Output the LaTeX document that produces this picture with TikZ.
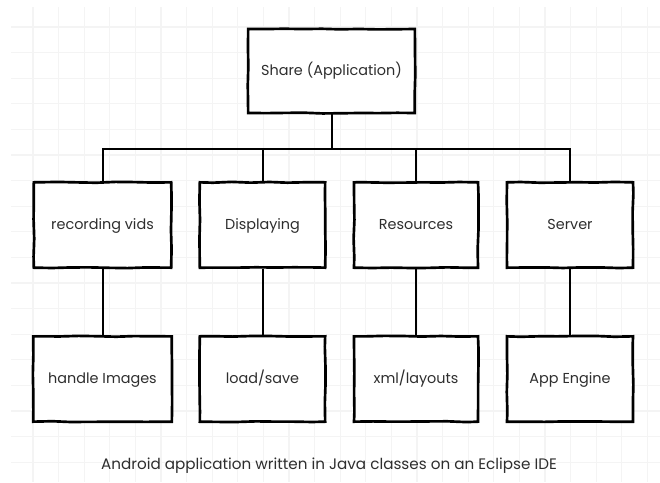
\documentclass[tikz,border=0pt]{standalone}
\usepackage{fontspec}
\setmainfont{Poppins}
\usetikzlibrary{decorations.pathmorphing}
\definecolor{gridgray}{gray}{0.955}
\definecolor{inkgray}{HTML}{2E2E2E}
\tikzset{
    block/.style={draw=black, fill=white, line width=2pt, minimum height=64pt,
        text=inkgray, font=\fontsize{10.8}{13}\selectfont, text height=1.6ex, text depth=0.45ex,
        decorate, decoration={random steps, segment length=14pt, amplitude=0.35pt}},
    link/.style={draw=black, line width=1.5pt}
}
\begin{document}
\begin{tikzpicture}[x=0.75pt, y=-0.75pt]
    \useasboundingbox (0,0) rectangle (660,482);
    \fill[white] (0,0) rectangle (660,482);
    \foreach \gx in {33.0,58.6,...,660} \draw[gridgray, line width=1pt] (\gx,7) -- (\gx,482);
    \foreach \gy in {27.0,52.6,...,482} \draw[gridgray, line width=1pt] (11,\gy) -- (660,\gy);
    \node[block, minimum width=125pt, minimum height=63pt] (share) at (331.5,71) {Share (Application)};
    \node[block, minimum width=103pt] (rec) at (102.5,225) {recording vids};
    \node[block, minimum width=94pt] (disp) at (262.5,225) {Displaying};
    \node[block, minimum width=93pt] (res) at (416,225) {Resources};
    \node[block, minimum width=94.5pt] (serv) at (570,225) {Server};
    \node[block, minimum width=104pt] (img) at (102.5,379) {handle Images};
    \node[block, minimum width=94pt] (ls) at (262.5,379) {load/save};
    \node[block, minimum width=93pt] (xml) at (416,379) {xml/layouts};
    \node[block, minimum width=94.5pt] (eng) at (570,379) {App Engine};
    \coordinate (bus) at (0,148.5);
    \draw[link] (share.south) -- (share.south |- bus) -| (rec.north);
    \draw[link] (share.south |- bus) -| (disp.north);
    \draw[link] (share.south |- bus) -| (res.north);
    \draw[link] (share.south |- bus) -| (serv.north);
    \draw[link] (rec.south) -- (img.north);
    \draw[link] (disp.south) -- (ls.north);
    \draw[link] (res.south) -- (xml.north);
    \draw[link] (serv.south) -- (eng.north);
    \node[text=inkgray, font=\fontsize{11.4}{13}\selectfont] (caption) at (329,466) {Android application written in Java classes on an Eclipse IDE};
\end{tikzpicture}
\end{document}
